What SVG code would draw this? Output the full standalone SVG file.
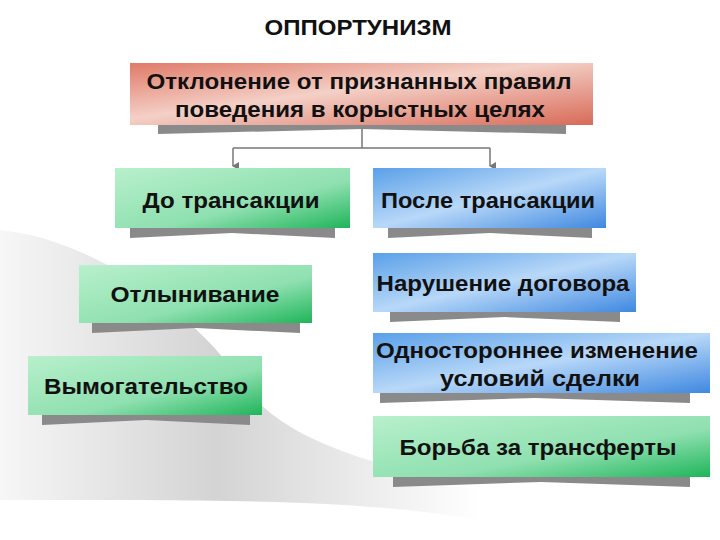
<svg xmlns="http://www.w3.org/2000/svg" width="720" height="540" viewBox="0 0 720 540">
<defs>
<linearGradient id="gr" x1="0" y1="0" x2="1" y2="1"><stop offset="0" stop-color="#b8f0cc"/><stop offset="0.6" stop-color="#8fe0b0"/><stop offset="1" stop-color="#1fb55a"/></linearGradient>
<linearGradient id="bl" x1="0" y1="0" x2="1" y2="1"><stop offset="0" stop-color="#5aa0e8"/><stop offset="0.5" stop-color="#b8d8f8"/><stop offset="1" stop-color="#3f88e0"/></linearGradient>
<linearGradient id="rd" x1="0" y1="0" x2="1" y2="1"><stop offset="0" stop-color="#e07a68"/><stop offset="0.45" stop-color="#f4d0c6"/><stop offset="1" stop-color="#d86a58"/></linearGradient>
<linearGradient id="sw" x1="0" y1="0" x2="1" y2="0"><stop offset="0" stop-color="#eeeeee"/><stop offset="0.45" stop-color="#a8a8a8"/><stop offset="1" stop-color="#ffffff"/></linearGradient>
<marker id="ar" markerWidth="8" markerHeight="8" refX="4" refY="6" orient="auto-start-reverse" markerUnits="userSpaceOnUse"><path d="M0,0 L8,0 L4,7 Z" fill="#777"/></marker>
</defs>
<style>
.t{font-family:"Liberation Sans",Arial,sans-serif;font-weight:bold;font-size:22px;fill:#111;text-anchor:middle}
.sh{fill:#8a8a8a}
</style>
<rect width="720" height="540" fill="#fff"/>
<path d="M0,230 C100,240 200,320 240,380 C280,440 360,460 480,490 L480,520 C360,500 250,500 0,500 Z" fill="url(#sw)" opacity="0.5"/>
<text x="358" y="35" class="t" font-size="21" textLength="187" lengthAdjust="spacingAndGlyphs">ОППОРТУНИЗМ</text>
<g id="connectors" fill="none" stroke="#777" stroke-width="1.5">
<path d="M362,125 V148 M233,148 H490"/>
<path d="M233,148 V166" marker-end="url(#ar)"/>
<path d="M490,148 V166" marker-end="url(#ar)"/>
</g>
<g id="n0"><path class="sh" d="M158,125 H566 V134 L362,129 L158,134 Z"/><rect x="130" y="63" width="463" height="62" fill="url(#rd)"/><text x="359" y="89" class="t" textLength="425" lengthAdjust="spacingAndGlyphs">Отклонение от признанных правил</text><text x="360" y="117" class="t" textLength="370" lengthAdjust="spacingAndGlyphs">поведения в корыстных целях</text></g>
<g id="n1"><path class="sh" d="M130,228 H335 V238 L232,233 L130,238 Z"/><rect x="115" y="168" width="235" height="60" fill="url(#gr)"/><text x="231" y="208" class="t" textLength="177" lengthAdjust="spacingAndGlyphs">До трансакции</text></g>
<g id="n2"><path class="sh" d="M388,228 H592 V238 L490,233 L388,238 Z"/><rect x="373" y="168" width="233" height="60" fill="url(#bl)"/><text x="488" y="208" class="t" textLength="214" lengthAdjust="spacingAndGlyphs">После трансакции</text></g>
<g id="n3"><path class="sh" d="M92,323 H300 V333 L196,328 L92,333 Z"/><rect x="79" y="265" width="233" height="58" fill="url(#gr)"/><text x="195" y="302" class="t" textLength="169" lengthAdjust="spacingAndGlyphs">Отлынивание</text></g>
<g id="n4"><path class="sh" d="M390,312 H620 V322 L505,317 L390,322 Z"/><rect x="373" y="253" width="263" height="59" fill="url(#bl)"/><text x="503" y="291" class="t" textLength="253" lengthAdjust="spacingAndGlyphs">Нарушение договора</text></g>
<g id="n5"><path class="sh" d="M42,415 H250 V425 L146,420 L42,425 Z"/><rect x="28" y="356" width="234" height="59" fill="url(#gr)"/><text x="146" y="394" class="t" textLength="204" lengthAdjust="spacingAndGlyphs">Вымогательство</text></g>
<g id="n6"><path class="sh" d="M380,393 H690 V403 L535,398 L380,403 Z"/><rect x="373" y="333" width="337" height="60" fill="url(#bl)"/><text x="537" y="358" class="t" textLength="322" lengthAdjust="spacingAndGlyphs">Одностороннее изменение</text><text x="540" y="386" class="t" textLength="200" lengthAdjust="spacingAndGlyphs">условий сделки</text></g>
<g id="n7"><path class="sh" d="M393,477 H690 V487 L541,482 L393,487 Z"/><rect x="373" y="416" width="337" height="61" fill="url(#gr)"/><text x="538" y="455" class="t" textLength="277" lengthAdjust="spacingAndGlyphs">Борьба за трансферты</text></g>
</svg>
